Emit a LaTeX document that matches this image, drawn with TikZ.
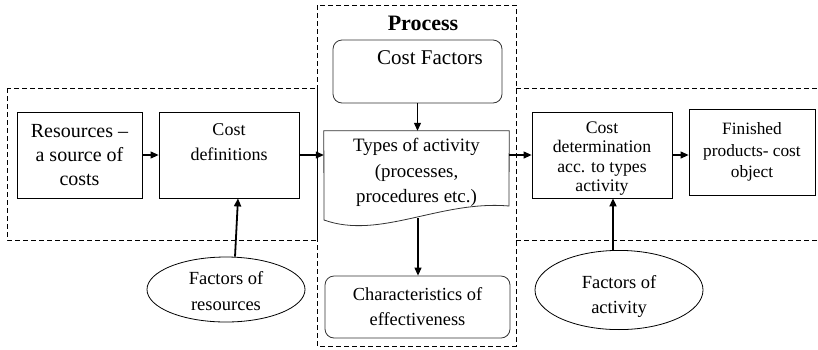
\documentclass[tikz,border=0pt]{standalone}
\usepackage{fontspec}
\setmainfont{Liberation Serif}
\usetikzlibrary{arrows.meta,shapes.geometric}

\begin{document}
\begin{tikzpicture}[x=1pt,y=-1pt,
        caja/.style={draw, line width=0.8pt, rectangle, align=center, inner sep=1pt},
        cajar/.style={caja, rounded corners=9pt, draw=black!80},
        elipse/.style={draw, line width=0.8pt, ellipse, align=center, inner sep=1pt},
        zona/.style={line width=0.7pt, dash pattern=on 5pt off 3pt},
        flecha/.style={line width=1.1pt, -{Triangle[length=8pt,width=7pt]}},
        flechag/.style={line width=1.8pt, -{Triangle[length=8pt,width=7pt]}}]
    \useasboundingbox (0,0) rectangle (818,349);

    % Zonas punteadas.
    \draw[zona] (7,88) rectangle (317,240);
    \draw[zona] (317,5) rectangle (516,346);
    \draw[zona] (516,88) -- (818,88);
    \draw[zona] (516,240) -- (818,240);
    \node[font=\fontsize{22}{25}\selectfont\bfseries] (proc) at (423,23) {Process};

    % Cajas de la fila central.
    \node[caja, minimum width=125, minimum height=86, font=\fontsize{20}{24}\selectfont]
        (res) at (79.5,155) {Resources --\\a source of\\costs};
    \node[caja, minimum width=140, minimum height=86, font=\fontsize{18}{25}\selectfont]
        (def) at (229,155) {Cost\\definitions\\~};
    \node[caja, minimum width=140, minimum height=86, font=\fontsize{17.7}{19.5}\selectfont]
        (cdet) at (602,155) {\rule{0pt}{19pt}Cost\\determination\\acc. to types\\activity};
    \node[caja, minimum width=126, minimum height=86, font=\fontsize{17.3}{21.5}\selectfont]
        (fin) at (752,152) {Finished\\products- cost\\object};

    % Proceso: factores, actividad y efectividad.
    \node[cajar, minimum width=169, minimum height=63, font=\fontsize{21}{27}\selectfont]
        (cf) at (417.5,71.5) {\hspace*{25pt}Cost Factors\\~};
    \node[align=center, minimum width=185, minimum height=79, inner sep=0pt,
        font=\fontsize{18.9}{25.5}\selectfont]
        (act) at (416.5,170.5) {\rule{0pt}{18pt}Types of activity\\(processes,\\procedures etc.)};
    \coordinate (actSE) at (509,206);
    \coordinate (actSW) at (324,220);
    \coordinate (actB) at (418,218);
    \draw[line width=0.8pt, draw=black!80] (act.north west) -- (act.north east) -- (actSE)
        .. controls (440,200) and (380,240) .. (actSW) -- cycle;
    \node[cajar, minimum width=185, minimum height=62, font=\fontsize{18.4}{25}\selectfont]
        (char) at (417.5,307) {Characteristics of\\effectiveness};

    % Factores externos.
    \node[elipse, minimum width=158, minimum height=65, font=\fontsize{18.5}{26}\selectfont]
        (fres) at (226,289.5) {\rule{0pt}{17pt}Factors of\\resources};
    \node[elipse, minimum width=168, minimum height=63, font=\fontsize{18.5}{25}\selectfont]
        (fact) at (619,290) {\rule{0pt}{25pt}Factors of\\activity};

    % Flechas.
    \draw[flecha] (res.east) -- (def.west);
    \draw[flecha] (def.east) -- (def.east -| act.west);
    \draw[flecha] (act.east |- cdet.west) -- (cdet.west);
    \draw[flecha] (cdet.east) -- (cdet.east -| fin.west);
    \draw[flecha] (cf.south) -- (cf.south |- act.north);
    \draw[flecha] (actB) -- (actB |- char.north);
    \draw[flechag] ([xshift=9pt]fres.north) -- ([xshift=9pt]def.south);
    \draw[flechag] ([xshift=-6pt]fact.north) -- ([xshift=11pt]cdet.south);
\end{tikzpicture}
\end{document}
